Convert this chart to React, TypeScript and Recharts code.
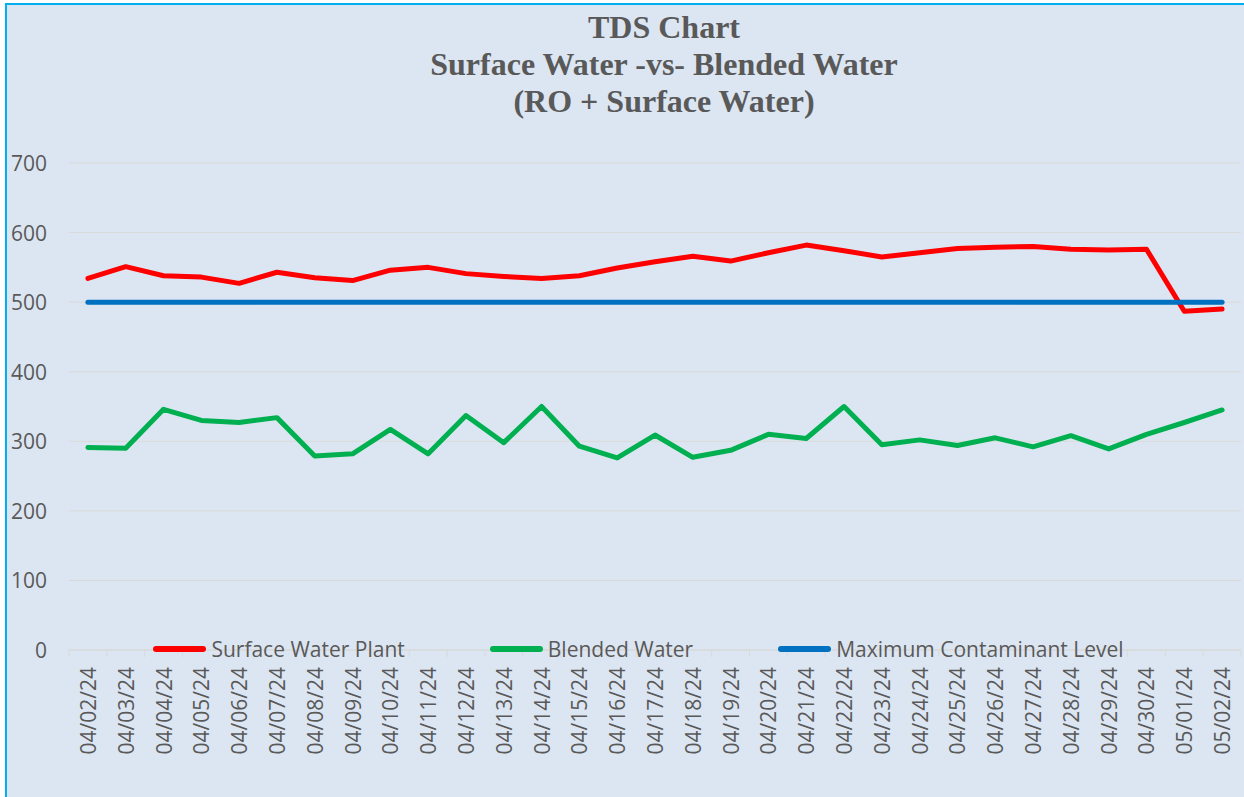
import React from 'react'
import { LineChart, Line, XAxis, YAxis, CartesianGrid, Legend } from 'recharts'

// Daily TDS readings (mg/L)
const dates = [
	'04/02/24', '04/03/24', '04/04/24', '04/05/24', '04/06/24', '04/07/24', '04/08/24', '04/09/24',
	'04/10/24', '04/11/24', '04/12/24', '04/13/24', '04/14/24', '04/15/24', '04/16/24', '04/17/24',
	'04/18/24', '04/19/24', '04/20/24', '04/21/24', '04/22/24', '04/23/24', '04/24/24', '04/25/24',
	'04/26/24', '04/27/24', '04/28/24', '04/29/24', '04/30/24', '05/01/24', '05/02/24',
]

const surfacePlant = [
	534, 551, 538, 536, 527, 543, 535, 531, 546, 550, 541, 537, 534, 538, 549, 558,
	566, 559, 571, 582, 574, 565, 571, 577, 579, 580, 576, 575, 576, 487, 490,
]

const blended = [
	291, 290, 346, 330, 327, 334, 279, 282, 317, 282, 337, 298, 350, 293, 276, 309,
	277, 287, 310, 304, 350, 295, 302, 294, 305, 292, 308, 289, 310, 327, 345,
]

const mcl = [
	500, 500, 500, 500, 500, 500, 500, 500, 500, 500, 500, 500, 500, 500, 500, 500,
	500, 500, 500, 500, 500, 500, 500, 500, 500, 500, 500, 500, 500, 500, 500,
]

const yTicks = [0, 100, 200, 300, 400, 500, 600, 700]

const seriesNames = ['Surface Water Plant', 'Blended Water', 'Maximum Contaminant Level']

const titleLines = ['TDS Chart', 'Surface Water -vs- Blended Water', '(RO + Surface Water)']

const data = dates.map((d, i) => ({
	date: d,
	surface: surfacePlant[i],
	blended: blended[i],
	mcl: mcl[i],
}))

const W = 1244
const H = 797
const PLOT_LEFT = 69
const PLOT_RIGHT = 1241
const PLOT_TOP = 163
const PLOT_BOTTOM = 650
const BAND = (PLOT_RIGHT - PLOT_LEFT) / dates.length

const TEXT = '#595959'
const GRID = '#d9d9d9'
const FONT = '"Open Sans", sans-serif'

const XTick = (props: any) => {
	const { x, payload, index } = props
	const ty = 667
	return (
		<g>
			<line x1={x - BAND / 2} x2={x - BAND / 2} y1={PLOT_BOTTOM} y2={PLOT_BOTTOM + 7} stroke={GRID} />
			{index === dates.length - 1 && (
				<line x1={x + BAND / 2} x2={x + BAND / 2} y1={PLOT_BOTTOM} y2={PLOT_BOTTOM + 7} stroke={GRID} />
			)}
			<text
				x={x}
				y={ty}
				transform={`rotate(-90, ${x}, ${ty})`}
				textAnchor="end"
				dominantBaseline="central"
				fill={TEXT}
				fontSize={21}
				fontFamily={FONT}
			>
				{payload.value}
			</text>
		</g>
	)
}

const YTick = (props: any) => {
	const { y, payload } = props
	return (
		<text x={47} y={y} textAnchor="end" dominantBaseline="central" fill={TEXT} fontSize={21} fontFamily={FONT}>
			{payload.value}
		</text>
	)
}

const LegendContent = (props: any) => {
	const items = [...(props.payload || [])].sort(
		(a: any, b: any) => seriesNames.indexOf(a.value) - seriesNames.indexOf(b.value)
	)
	return (
		<div style={{ display: 'flex', justifyContent: 'center', gap: 85, paddingLeft: 33 }}>
			{items.map((p: any) => (
				<div key={p.value} style={{ display: 'flex', alignItems: 'center' }}>
					<div style={{ width: 53, height: 6, borderRadius: 3, background: p.color, marginRight: 5 }} />
					<span style={{ color: TEXT, fontSize: 21, fontFamily: FONT, lineHeight: '26px' }}>{p.value}</span>
				</div>
			))}
		</div>
	)
}

export default function App() {
	return (
		<div style={{ position: 'fixed', left: 0, top: 0, width: W, height: H, background: '#ffffff' }}>
			<div
				style={{
					position: 'absolute',
					left: 5,
					top: 3,
					right: 0,
					bottom: 0,
					background: '#dce6f2',
					borderLeft: '2px solid #00b0f0',
					borderTop: '2px solid #00b0f0',
				}}
			/>
			<div
				style={{
					position: 'absolute',
					left: 0,
					top: 9,
					width: 1328,
					textAlign: 'center',
					fontFamily: '"Liberation Serif", "Times New Roman", serif',
					fontWeight: 'bold',
					fontSize: 32,
					lineHeight: '37px',
					color: TEXT,
				}}
			>
				{titleLines.map((t) => (
					<div key={t}>{t}</div>
				))}
			</div>
			<div style={{ position: 'absolute', left: 0, top: 0 }}>
				<LineChart
					width={W}
					height={H}
					data={data}
					margin={{ top: PLOT_TOP, right: W - PLOT_RIGHT, left: 0, bottom: 0 }}
				>
					<CartesianGrid vertical={false} stroke={GRID} />
					<XAxis
						dataKey="date"
						interval={0}
						height={H - PLOT_BOTTOM}
						padding={{ left: BAND / 2, right: BAND / 2 }}
						axisLine={{ stroke: GRID }}
						tickLine={false}
						tick={<XTick />}
					/>
					<YAxis
						width={PLOT_LEFT}
						domain={[0, 700]}
						ticks={yTicks}
						axisLine={false}
						tickLine={false}
						tick={<YTick />}
					/>
					<Legend
						layout="horizontal"
						verticalAlign="middle"
						align="center"
						content={<LegendContent />}
						wrapperStyle={{ position: 'absolute', top: 636, left: 0, width: W }}
					/>
					<Line
						name="Surface Water Plant"
						dataKey="surface"
						stroke="#ff0000"
						strokeWidth={5}
						dot={false}
						strokeLinecap="round"
						strokeLinejoin="round"
						isAnimationActive={false}
					/>
					<Line
						name="Blended Water"
						dataKey="blended"
						stroke="#00b050"
						strokeWidth={5}
						dot={false}
						strokeLinecap="round"
						strokeLinejoin="round"
						isAnimationActive={false}
					/>
					<Line
						name="Maximum Contaminant Level"
						dataKey="mcl"
						stroke="#0070c0"
						strokeWidth={5}
						dot={false}
						strokeLinecap="round"
						strokeLinejoin="round"
						isAnimationActive={false}
					/>
				</LineChart>
			</div>
		</div>
	)
}
